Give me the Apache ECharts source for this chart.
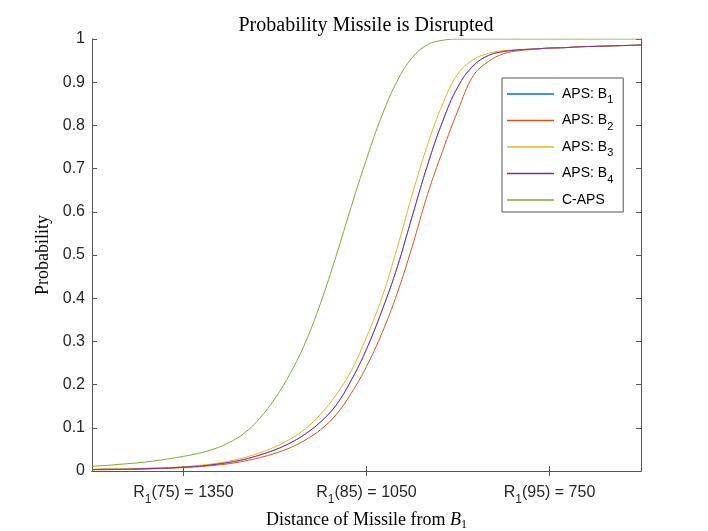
<!DOCTYPE html>
<html>
<head>
<meta charset="utf-8">
<title>Probability Missile is Disrupted</title>
<script src="https://cdn.jsdelivr.net/npm/echarts@6/dist/echarts.min.js"></script>
<style>
html,body{margin:0;padding:0;background:#fff;}
#main{width:708px;height:531px;}
</style>
</head>
<body>
<div id="main"></div>
<script>
// distance of missile from B1 (x values, axis runs 1500 -> 600)
var distance = [1500,1475,1450,1425,1400,1375,1350,1325,1300,1275,1250,1225,1200,1175,1150,1125,1100,1075,1050,1025,1000,975,950,925,900,875,850,825,800,775,750,725,700,675,650,625,600];

// probabilities
var apsB1 = [0.003,0.004,0.004,0.005,0.006,0.007,0.009,0.011,0.015,0.020,0.027,0.037,0.049,0.065,0.086,0.114,0.152,0.210,0.282,0.370,0.470,0.590,0.708,0.810,0.890,0.938,0.962,0.971,0.975,0.977,0.979,0.980,0.982,0.983,0.984,0.985,0.986];
var apsB2 = [0.003,0.003,0.004,0.004,0.005,0.006,0.008,0.010,0.013,0.017,0.023,0.031,0.041,0.054,0.072,0.096,0.130,0.180,0.242,0.318,0.410,0.520,0.640,0.742,0.835,0.915,0.948,0.966,0.973,0.976,0.979,0.980,0.982,0.983,0.984,0.985,0.986];
var apsB3 = [0.004,0.005,0.005,0.006,0.007,0.008,0.010,0.013,0.017,0.023,0.031,0.042,0.056,0.074,0.098,0.132,0.176,0.232,0.310,0.400,0.515,0.640,0.755,0.850,0.920,0.952,0.967,0.973,0.975,0.977,0.979,0.980,0.982,0.983,0.984,0.985,0.986];
var apsB4 = [0.003,0.004,0.004,0.005,0.006,0.007,0.009,0.011,0.015,0.020,0.027,0.037,0.049,0.065,0.086,0.114,0.152,0.210,0.282,0.370,0.470,0.590,0.708,0.810,0.890,0.938,0.962,0.971,0.975,0.977,0.979,0.980,0.982,0.983,0.984,0.985,0.986];
var cAps  = [0.011,0.013,0.016,0.019,0.023,0.028,0.034,0.041,0.051,0.066,0.088,0.122,0.168,0.226,0.298,0.390,0.497,0.612,0.722,0.822,0.902,0.957,0.987,0.997,1,1,1,1,1,1,1,1,1,1,1,1,1];

var seriesNames = ['APS: B1','APS: B2','APS: B3','APS: B4','C-APS'];
var seriesColors = ['#0072BD','#D95319','#EDB120','#7E2F8E','#77AC30'];
var seriesWidths = [0.5,1,1,1,1];   // B1 sits under B4

// x tick positions and their percent labels
var xTickDist = [1350,1050,750];
var xTickPct = [75,85,95];

var sans = 'Liberation Sans';
var serif = 'Liberation Serif';
var axisCol = '#555';

function pairs(vals){
	var list = [];
	for(var i=0;i<distance.length;i++){
		list.push([distance[i], vals[i]]);
	}
	return list;
}

var allVals = [apsB1, apsB2, apsB3, apsB4, cAps];
var series = [];
var legendData = [];
for(var i=0;i<allVals.length;i++){
	series.push({
		name: seriesNames[i],
		type: 'line',
		data: pairs(allVals[i]),
		showSymbol: false,
		symbol: 'none',
		smooth: 0.4,
		color: seriesColors[i],
		lineStyle: {width: seriesWidths[i], color: seriesColors[i]}
	});
	legendData.push({name: seriesNames[i], itemStyle: {color: seriesColors[i], borderWidth: 0}});
}

var myChart = echarts.init(document.getElementById('main'));
var option = {
	animation: false,
	backgroundColor: '#fff',
	title: {
		text: 'Probability Missile is Disrupted',
		left: 366,
		top: 16,
		padding: 0,
		textAlign: 'center',
		textStyle: {fontFamily: serif, fontSize: 20, fontWeight: 'normal', color: '#000'}
	},
	legend: {
		orient: 'vertical',
		left: 502,
		top: 78,
		data: legendData,
		icon: 'rect',
		itemWidth: 47,
		itemHeight: 1.5,
		itemGap: 8,
		padding: [9, 10, 5, 5],
		backgroundColor: '#fff',
		borderColor: axisCol,
		borderWidth: 1,
		itemStyle: {borderWidth: 0},
		formatter: function(name){
			if(name.indexOf('APS: B')==0){
				return '{a|APS: B}{s|' + name.substring(6) + '}';
			}
			return '{a|' + name + '}';
		},
		textStyle: {
			padding: [0,0,0,3],
			rich: {
				a: {fontFamily: sans, fontSize: 14, color: '#000'},
				s: {fontFamily: sans, fontSize: 11, color: '#000', verticalAlign: 'top', padding: [12,0,0,0]}
			}
		}
	},
	grid: {left: 92, right: 67, top: 39, bottom: 60, outerBoundsMode: 'none'},
	xAxis: [
		{
			type: 'value',
			inverse: true,
			min: 600,
			max: 1500,
			position: 'bottom',
			axisLine: {lineStyle: {color: axisCol, width: 1}},
			axisTick: {inside: true, length: 5, customValues: xTickDist, lineStyle: {color: axisCol}},
			splitLine: {show: false},
			axisLabel: {
				customValues: xTickDist,
				margin: 9,
				formatter: function(v){
					var k = xTickDist.indexOf(v);
					return '{r|R}{s|1}{r|(' + xTickPct[k] + ') = ' + v + '}';
				},
				rich: {
					r: {fontFamily: sans, fontSize: 16, color: '#262626'},
					s: {fontFamily: sans, fontSize: 12, color: '#262626', verticalAlign: 'top', padding: [14,0,0,0]}
				}
			},
			name: '{t|Distance of Missile from }{i|B}{s|1}',
			nameLocation: 'middle',
			nameGap: 35,
			nameTextStyle: {
				rich: {
					t: {fontFamily: serif, fontSize: 18, color: '#000'},
					i: {fontFamily: serif, fontSize: 18, fontStyle: 'italic', color: '#000'},
					s: {fontFamily: serif, fontSize: 12, color: '#000', verticalAlign: 'top', padding: [10,0,0,0]}
				}
			}
		},
		{
			type: 'value',
			inverse: true,
			min: 600,
			max: 1500,
			position: 'top',
			axisLine: {lineStyle: {color: axisCol, width: 1}},
			axisTick: {inside: true, length: 5, customValues: xTickDist, lineStyle: {color: axisCol}},
			axisLabel: {show: false},
			splitLine: {show: false}
		}
	],
	yAxis: [
		{
			type: 'value',
			min: 0,
			max: 1,
			interval: 0.1,
			position: 'left',
			axisLine: {show: true, lineStyle: {color: axisCol, width: 1}},
			axisTick: {show: true, inside: true, length: 5, lineStyle: {color: axisCol}},
			splitLine: {show: false},
			axisLabel: {fontFamily: sans, fontSize: 16, color: '#262626', margin: 7},
			name: 'Probability',
			nameLocation: 'middle',
			nameRotate: 90,
			nameGap: 31,
			nameTextStyle: {fontFamily: serif, fontSize: 18, color: '#000'}
		},
		{
			type: 'value',
			min: 0,
			max: 1,
			interval: 0.1,
			position: 'right',
			axisLine: {show: true, lineStyle: {color: axisCol, width: 1}},
			axisTick: {show: true, inside: true, length: 5, lineStyle: {color: axisCol}},
			axisLabel: {show: false},
			splitLine: {show: false}
		}
	],
	series: series
};
myChart.setOption(option);
</script>
</body>
</html>
